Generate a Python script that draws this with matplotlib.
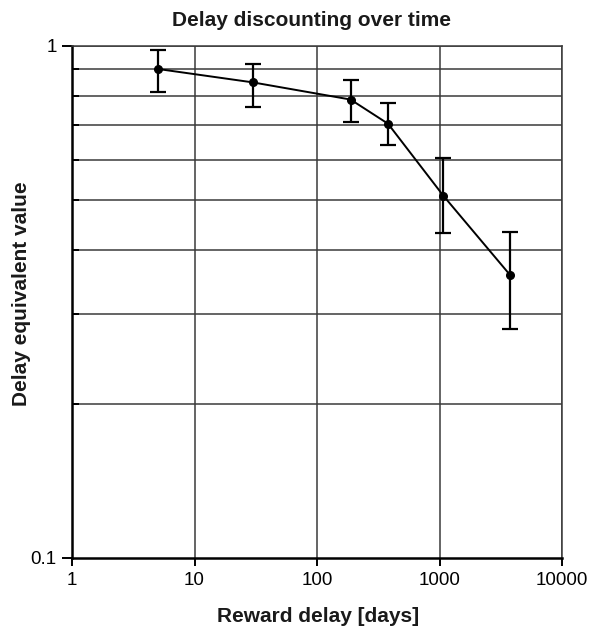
import matplotlib
matplotlib.use("Agg")
import matplotlib.pyplot as plt
from matplotlib.ticker import FixedLocator, NullFormatter, FixedFormatter

plt.rcParams['font.family'] = ['Liberation Sans', 'DejaVu Sans']

delay_days = [5, 30, 188, 380, 1075, 3770]
value = [0.902, 0.849, 0.786, 0.705, 0.510, 0.357]
err_upper = [0.982, 0.921, 0.858, 0.773, 0.604, 0.434]
err_lower = [0.813, 0.761, 0.711, 0.640, 0.432, 0.280]

x_ticks = [1, 10, 100, 1000, 10000]
x_tick_labels = ["1", "10", "100", "1000", "10000"]
y_ticks = [0.1, 1]
y_tick_labels = ["0.1", "1"]
y_grid = [0.2, 0.3, 0.4, 0.5, 0.6, 0.7, 0.8, 0.9]

W, H = 590, 626
fig = plt.figure(figsize=(W/100, H/100), dpi=100)
ax = fig.add_axes([72/W, 1 - 558/H, (562-72)/W, (558-46)/H])
ax.set_xscale('log')
ax.set_yscale('log')
ax.set_xlim(1, 10000)
ax.set_ylim(0.1, 1)

yerr = [[v - lo for v, lo in zip(value, err_lower)],
        [hi - v for v, hi in zip(value, err_upper)]]
ax.errorbar(delay_days, value, yerr=yerr, fmt='o-', color='black', ms=5.5,
            lw=1.4, elinewidth=1.6, capsize=5.5, capthick=1.6, zorder=3)

ax.xaxis.set_major_locator(FixedLocator(x_ticks))
ax.xaxis.set_major_formatter(FixedFormatter(x_tick_labels))
ax.xaxis.set_minor_locator(FixedLocator([]))
ax.yaxis.set_major_locator(FixedLocator(y_ticks))
ax.yaxis.set_major_formatter(FixedFormatter(y_tick_labels))
ax.yaxis.set_minor_locator(FixedLocator(y_grid))
ax.yaxis.set_minor_formatter(NullFormatter())

for v in x_ticks:
    ax.axvline(v, color='#3a3a3a', lw=1.1, zorder=1)
for v in y_grid + [1]:
    ax.axhline(v, color='#3a3a3a', lw=1.1, zorder=1)

ax.tick_params(axis='x', which='major', labelsize=13.5, length=6, width=1.4,
               direction='out', colors='black', pad=4.3)
ax.tick_params(axis='y', which='major', labelsize=13.5, length=7, width=1.4,
               direction='out', colors='black', pad=4)
ax.tick_params(axis='y', which='minor', length=5, width=1.4, direction='in')
for s in ['left', 'bottom']:
    ax.spines[s].set_linewidth(1.8)
for s in ['top', 'right']:
    ax.spines[s].set_linewidth(1.1)
    ax.spines[s].set_color('#3a3a3a')

fig.text(312/W, 1 - 26.5/H, "Delay discounting over time", fontsize=15,
         fontweight='bold', ha='center', va='baseline', color='#1a1a1a')
fig.text(318/W, 1 - 621.5/H, "Reward delay [days]", fontsize=15,
         fontweight='bold', ha='center', va='baseline', color='#1a1a1a')
fig.text(26.7/W, 1 - 294/H, "Delay equivalent value", fontsize=15,
         fontweight='bold', ha='center', va='baseline', rotation=90,
         rotation_mode='anchor', color='#1a1a1a')

fig.savefig("out.png", dpi=100)
